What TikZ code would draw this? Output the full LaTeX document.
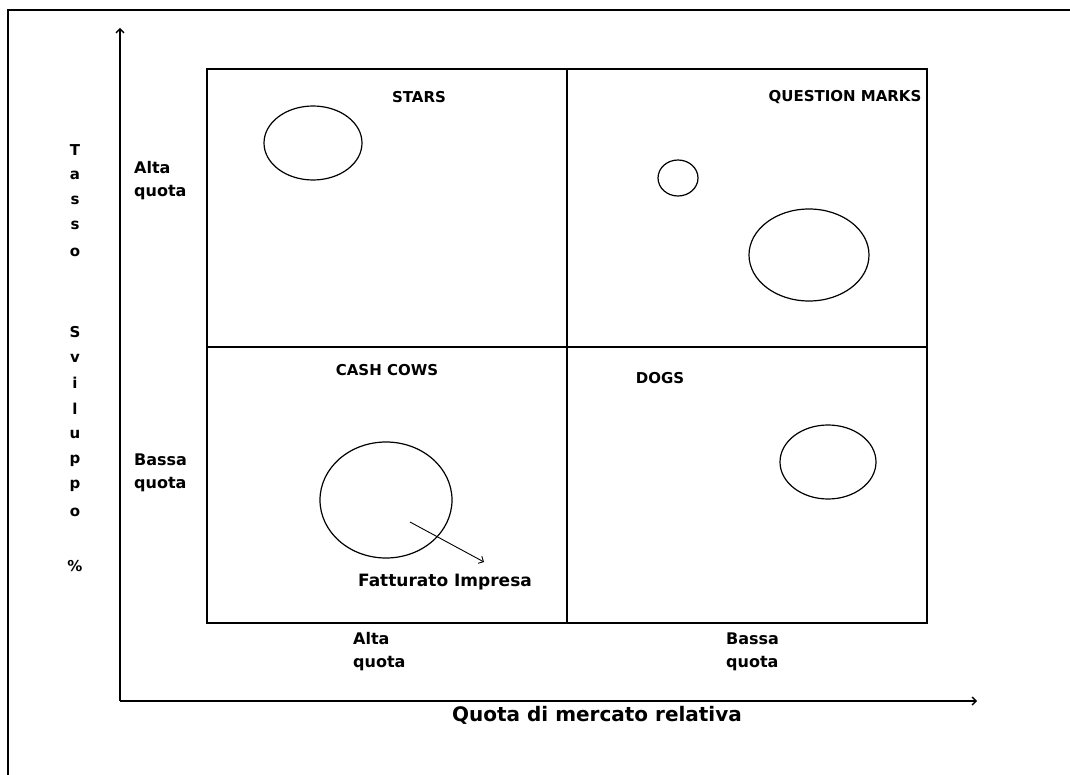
\documentclass[tikz,border=0pt]{standalone}
\usepackage{fontspec}
\setmainfont{DejaVu Sans}
\usetikzlibrary{arrows.meta,shapes.geometric}

\begin{document}
\begin{tikzpicture}[x=1pt,y=-1pt,>={Straight Barb[length=4pt,width=8pt]},
  frame/.style={line width=1.4pt},
  axis/.style={->, line width=1.4pt},
  quad/.style={line width=1.4pt},
  bubble/.style={draw, ellipse, line width=1.2pt, inner sep=0pt},
  lbl/.style={font=\fontsize{16}{23}\selectfont\bfseries, align=left, inner sep=0pt},
  title/.style={font=\fontsize{15}{18}\selectfont\bfseries, inner sep=0pt},
  note/.style={font=\fontsize{17}{20}\selectfont\bfseries, inner sep=0pt},
  axislbl/.style={font=\fontsize{20}{24}\selectfont\bfseries, inner sep=0pt}]
\useasboundingbox (0,0) rectangle (1070,775);
% outer frame (only left and top show)
\draw[frame] (8,775) -- (8,10) -- (1070,10);
% axes
\coordinate (O) at (120,701); \coordinate (Ytop) at (120,28); \coordinate (Xend) at (977,701);
\draw[axis] (O) -- (Ytop);
\draw[axis] (O) -- (Xend);
% matrix
\draw[quad] (207,69) rectangle (927,623);
\draw[quad] (567,69) -- (567,623);
\draw[quad] (207,347) -- (927,347);
% quadrant titles
\node[title] (stars) at (419,97) {STARS};
\node[title] (qmarks) at (845,97) {QUESTION MARKS};
\node[title] (cows) at (387,370) {CASH COWS};
\node[title] (dogs) at (660,378) {DOGS};
% bubbles
\node[bubble, minimum width=98pt, minimum height=74pt] (b1) at (313,143) {};
\node[bubble, minimum width=40pt, minimum height=36pt] (b2) at (678,178) {};
\node[bubble, minimum width=120pt, minimum height=92pt] (b3) at (809,255) {};
\node[bubble, minimum width=132pt, minimum height=116pt] (b4) at (386,500) {};
\node[bubble, minimum width=96pt, minimum height=74pt] (b5) at (828,462) {};
% turnover note
\coordinate (fin) at (410,522);
\node[note] (fatt) at (445,582) {Fatturato Impresa};
\coordinate (fend) at (484,562);
\draw[->, line width=0.9pt] (fin) -- (fend);
% axis labels
\node[lbl, anchor=west] (yhi) at (134,181) {Alta\\quota};
\node[lbl, anchor=west] (ylo) at (134,473) {Bassa\\quota};
\node[lbl, anchor=west] (xhi) at (353,652) {Alta\\quota};
\node[lbl, anchor=west] (xlo) at (726,652) {Bassa\\quota};
\node[axislbl] (xname) at (597,715) {Quota di mercato relativa};
\foreach \ch/\yy in {T/150,a/175,s/200,s/225,o/252,S/332,v/358,i/383,l/409,u/435,p/461,p/486,o/512,\%/566}
  \node[title] at (75,\yy) {\ch};
\end{tikzpicture}
\end{document}
